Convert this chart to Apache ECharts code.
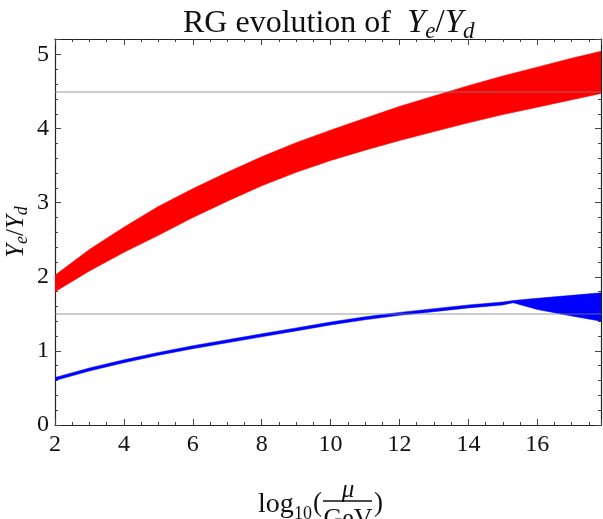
<!DOCTYPE html>
<html>
<head>
<meta charset="utf-8">
<script src="https://cdn.jsdelivr.net/npm/echarts@6/dist/echarts.min.js"></script>
<style>
  html, body { margin: 0; padding: 0; background: #ffffff; }
  #chart { width: 603px; height: 519px; }
</style>
</head>
<body>
<div id="chart"></div>
<script>
// red band (upper / lower edge)
var redX = [2, 3, 4, 5, 6, 7, 8, 9, 10, 11, 12, 13, 14, 15, 16, 17, 18]
var redHigh = [2.02, 2.37, 2.67, 2.95, 3.19, 3.41, 3.62, 3.81, 3.98, 4.14, 4.30, 4.44, 4.58, 4.71, 4.83, 4.95, 5.06]
var redLow = [1.80, 2.08, 2.33, 2.56, 2.80, 3.02, 3.23, 3.41, 3.57, 3.71, 3.84, 3.96, 4.08, 4.19, 4.29, 4.39, 4.49]

// blue band, pinches near 15.3 then opens up
var blueX = [2, 3, 4, 5, 6, 7, 8, 9, 10, 11, 12, 13, 14, 15, 15.3, 16, 17, 18]
var blueHigh = [0.64, 0.77, 0.88, 0.98, 1.07, 1.15, 1.23, 1.31, 1.39, 1.46, 1.52, 1.57, 1.62, 1.66, 1.68, 1.71, 1.75, 1.79]
var blueLow = [0.60, 0.73, 0.84, 0.94, 1.03, 1.11, 1.19, 1.27, 1.35, 1.42, 1.48, 1.53, 1.58, 1.62, 1.65, 1.56, 1.47, 1.39]

// grey reference levels
var refLevels = [4.5, 1.5]

var xMin = 2, xMax = 17.85
var yMin = 0, yMax = 5.21

var serif = 'Liberation Serif'
var myChart = echarts.init(document.getElementById('chart'), null, { renderer: 'canvas' })

// filled band between lo and hi, drawn through the axes with api.coord
function band(name, xs, lo, hi, color, edge) {
  return {
    name: name,
    type: 'custom',
    coordinateSystem: 'cartesian2d',
    data: [[xs[0], lo[0]]],
    silent: true,
    z: 3,
    renderItem: function(params, api) {
      var pts = []
      for (var i = 0; i < xs.length; i++) {
        pts.push(api.coord([xs[i], hi[i]]))
      }
      for (var j = xs.length - 1; j >= 0; j--) {
        pts.push(api.coord([xs[j], lo[j]]))
      }
      var cs = params.coordSys
      return {
        type: 'polygon',
        shape: { points: pts },
        style: { fill: color, stroke: color, lineWidth: edge },
        clipPath: { type: 'rect', shape: { x: cs.x, y: cs.y, width: cs.width, height: cs.height } }
      }
    }
  }
}

var axisCommon = {
  type: 'value',
  splitLine: { show: false },
  axisLine: { show: true, onZero: false, lineStyle: { color: '#222', width: 1.2 } },
  axisTick: { show: true, inside: true, length: 6, lineStyle: { color: '#444' } },
  minorTick: { show: true, length: 3, lineStyle: { color: '#444' } }
}

var series = [
  band('red', redX, redLow, redHigh, '#ff0000', 0.6),
  band('blue', blueX, blueLow, blueHigh, '#0000ff', 0.5),
  {
    type: 'line',
    data: [],
    silent: true,
    z: 5,
    markLine: {
      silent: true,
      symbol: 'none',
      animation: false,
      label: { show: false },
      lineStyle: { color: 'rgba(128,128,128,0.4)', type: 'solid', width: 2 },
      data: refLevels.map(function(v) { return { yAxis: v } })
    }
  }
]

var option = {
  animation: false,
  grid: { left: 55, right: 2, top: 39, bottom: 94, containLabel: false, outerBoundsMode: 'none' },
  xAxis: [
    Object.assign({}, axisCommon, {
      position: 'bottom',
      min: xMin, max: xMax, interval: 2,
      minorTick: Object.assign({}, axisCommon.minorTick, { splitNumber: 4 }),
      axisLabel: { show: true, showMaxLabel: false, margin: 8, color: '#111', fontFamily: serif, fontSize: 24 }
    }),
    Object.assign({}, axisCommon, {
      position: 'top',
      min: xMin, max: xMax, interval: 2,
      minorTick: Object.assign({}, axisCommon.minorTick, { splitNumber: 4 }),
      axisLabel: { show: false }
    })
  ],
  yAxis: [
    Object.assign({}, axisCommon, {
      position: 'left',
      min: yMin, max: yMax, interval: 1,
      minorTick: Object.assign({}, axisCommon.minorTick, { splitNumber: 5 }),
      axisLabel: { show: true, showMaxLabel: false, margin: 6, color: '#111', fontFamily: serif, fontSize: 24 }
    }),
    Object.assign({}, axisCommon, {
      position: 'right',
      min: yMin, max: yMax, interval: 1,
      minorTick: Object.assign({}, axisCommon.minorTick, { splitNumber: 5 }),
      axisLabel: { show: false }
    })
  ],
  series: series,
  graphic: [
    {
      type: 'text',
      x: 183,
      y: 4,
      style: {
        text: 'RG evolution of  {i|Y}{s|e}{n|/}{i|Y}{s|d}',
        fontFamily: serif,
        fontSize: 32,
        fill: '#111',
        rich: {
          i: { fontFamily: serif, fontSize: 33, fontStyle: 'italic', fill: '#111' },
          n: { fontFamily: serif, fontSize: 33, fill: '#111' },
          s: { fontFamily: serif, fontSize: 23, fontStyle: 'italic', fill: '#111', padding: [16, 0, 0, 0] }
        }
      }
    },
    {
      type: 'text',
      x: 16,
      y: 232,
      rotation: Math.PI / 2,
      style: {
        text: '{i|Y}{s|e}{n|/}{i|Y}{s|d}',
        align: 'center',
        verticalAlign: 'middle',
        fontFamily: serif,
        fontSize: 25,
        fill: '#111',
        rich: {
          i: { fontFamily: serif, fontSize: 25, fontStyle: 'italic', fill: '#111' },
          n: { fontFamily: serif, fontSize: 25, fill: '#111' },
          s: { fontFamily: serif, fontSize: 18, fontStyle: 'italic', fill: '#111', padding: [12, 0, 0, 0] }
        }
      }
    },
    {
      type: 'group',
      children: [
        { type: 'text', x: 258, y: 505, style: { text: 'log', fontFamily: serif, fontSize: 28, fill: '#111', verticalAlign: 'middle' } },
        { type: 'text', x: 294, y: 514, style: { text: '10', fontFamily: serif, fontSize: 18, fill: '#111', verticalAlign: 'middle' } },
        { type: 'text', x: 313, y: 504, style: { text: '(', fontFamily: serif, fontSize: 27, fill: '#111', verticalAlign: 'middle' } },
        { type: 'text', x: 348, y: 490, style: { text: 'μ', fontFamily: serif, fontSize: 25, fontStyle: 'italic', fill: '#111', align: 'center', verticalAlign: 'middle' } },
        { type: 'line', shape: { x1: 323, y1: 501, x2: 372, y2: 501 }, style: { stroke: '#111', lineWidth: 1.3 } },
        { type: 'text', x: 348, y: 519, style: { text: 'GeV', fontFamily: serif, fontSize: 26, fill: '#111', align: 'center', verticalAlign: 'middle' } },
        { type: 'text', x: 374, y: 504, style: { text: ')', fontFamily: serif, fontSize: 27, fill: '#111', verticalAlign: 'middle' } }
      ]
    }
  ]
}

myChart.setOption(option)
window.addEventListener('resize', function() {
  myChart.resize()
})
</script>
</body>
</html>
